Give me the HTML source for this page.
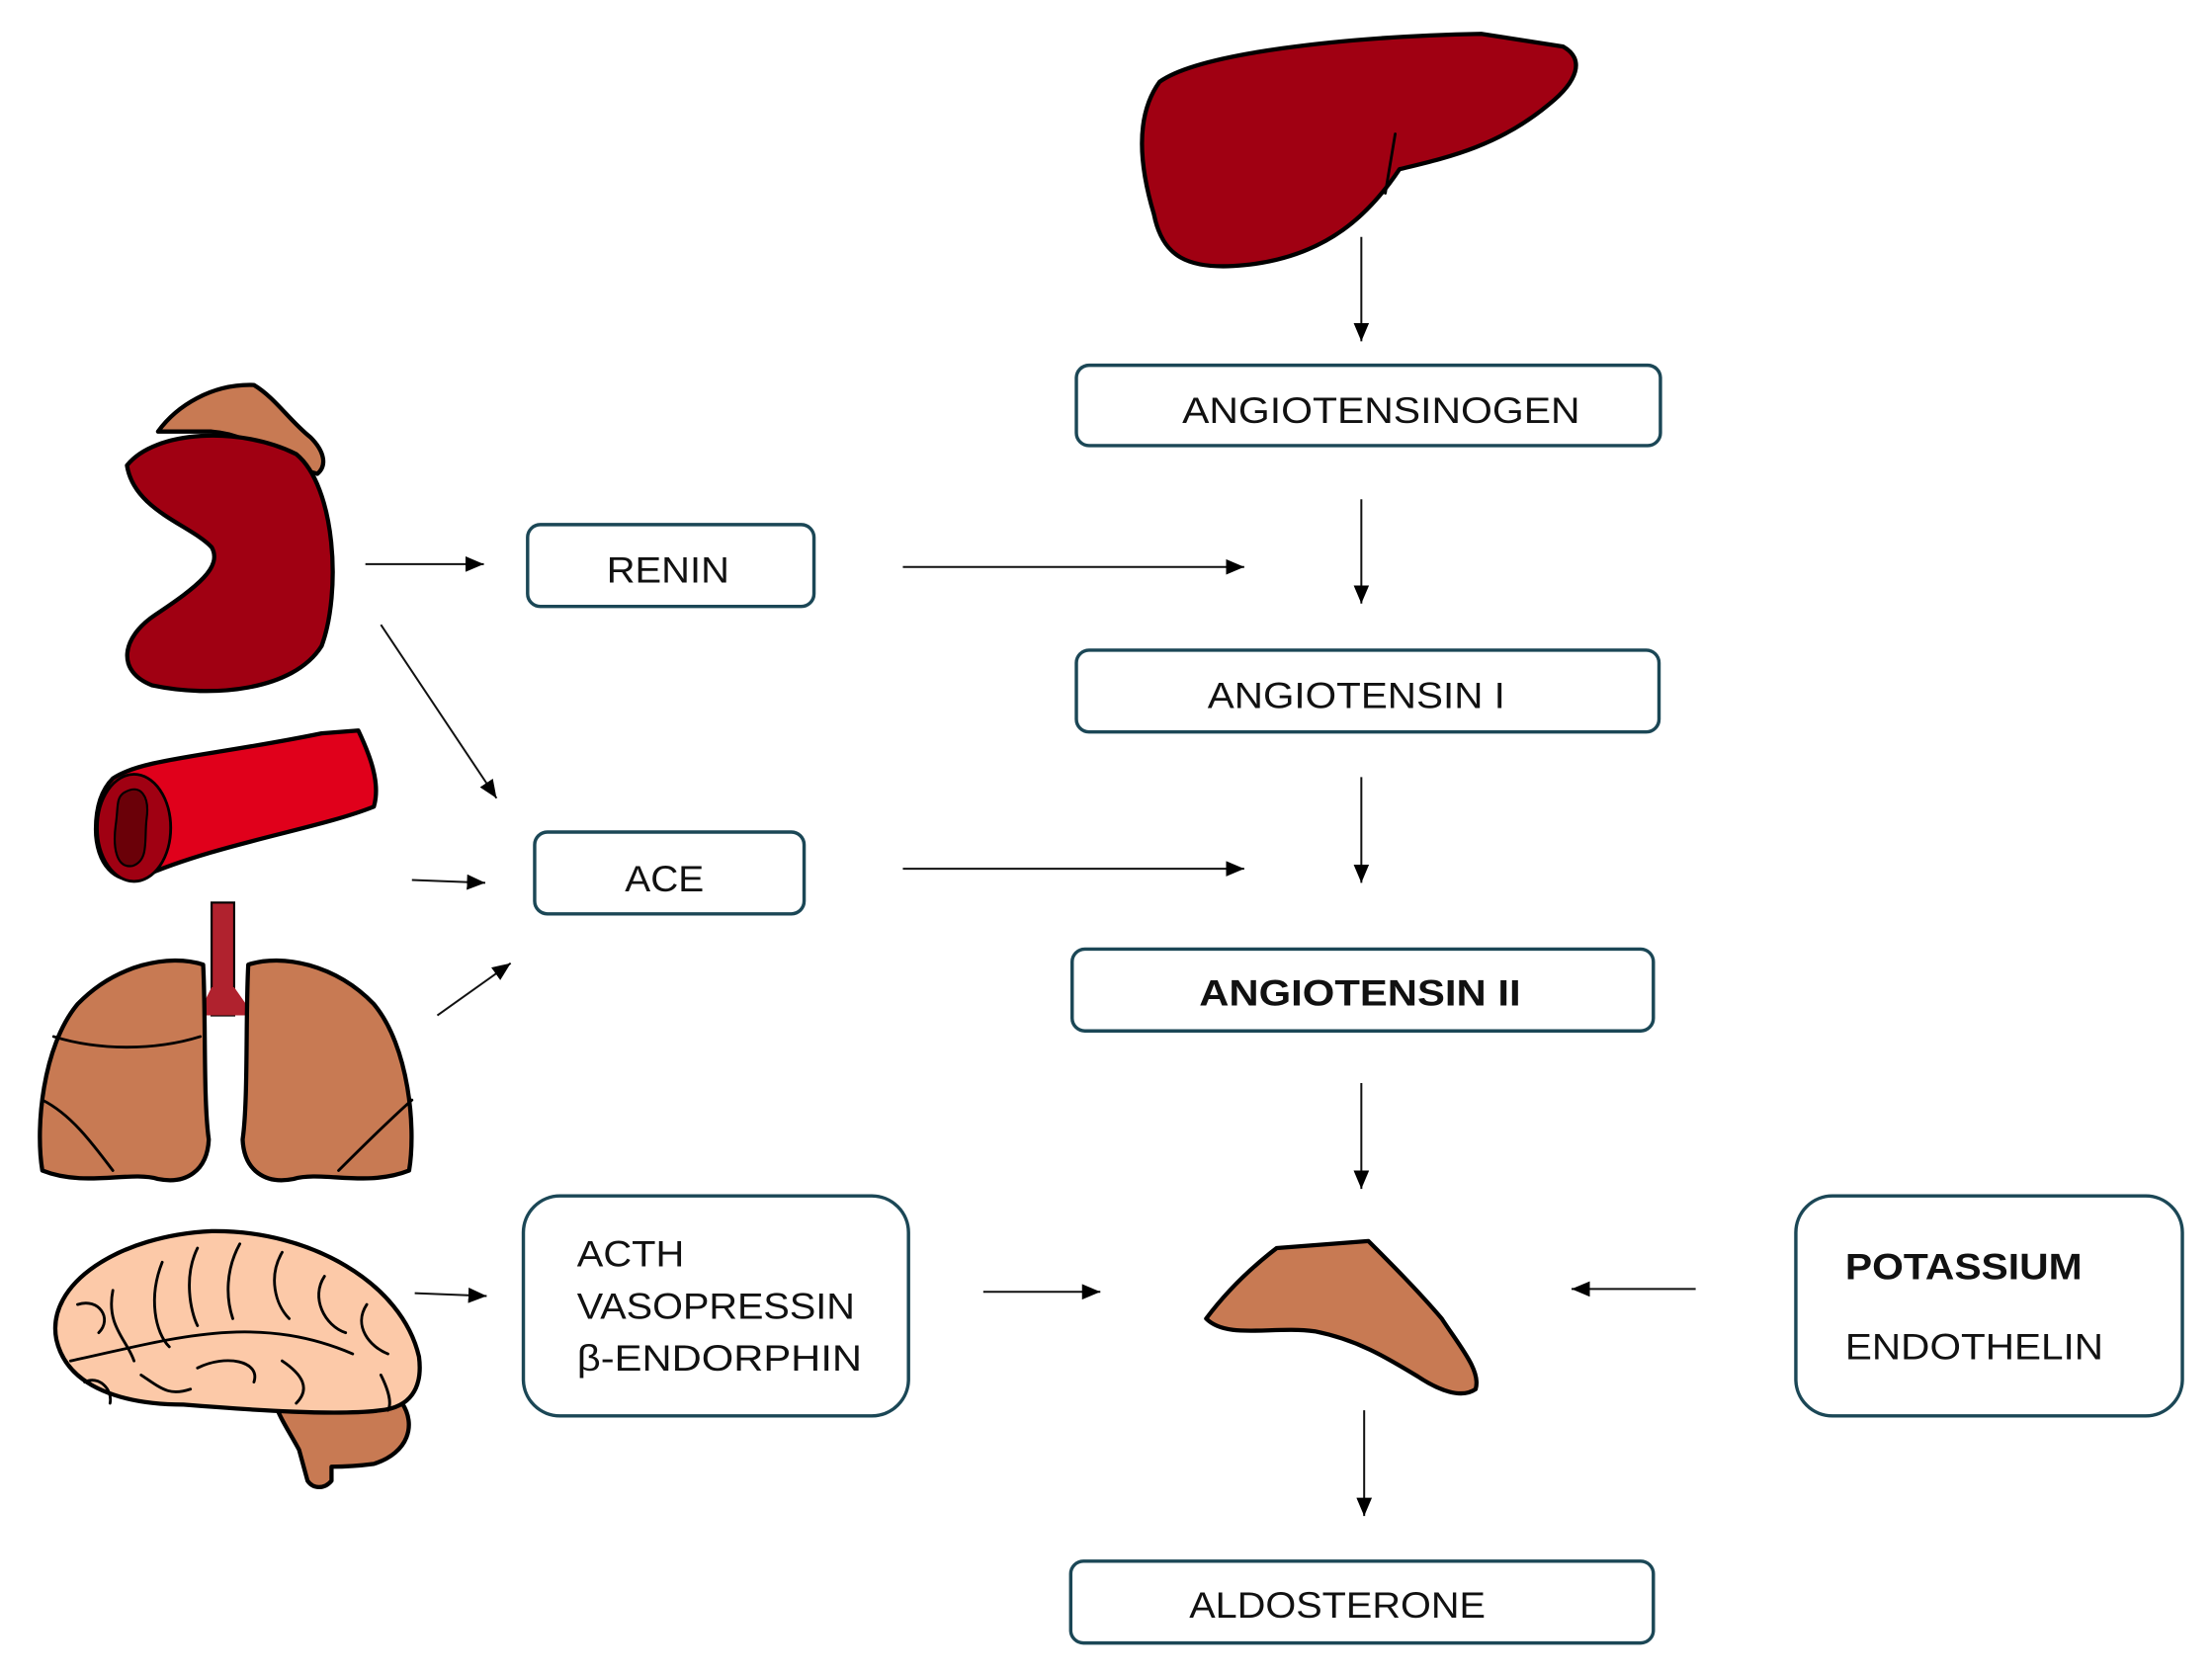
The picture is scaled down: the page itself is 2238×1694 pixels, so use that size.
<!DOCTYPE html>
<html><head><meta charset="utf-8"><style>
html,body{margin:0;padding:0;background:#fff;}
svg{display:block}
text{font-family:"Liberation Sans",Arial,sans-serif;font-size:26px;fill:#111;}
</style></head><body>
<svg width="2238" height="1694" viewBox="0 0 1568 1187" preserveAspectRatio="none" xmlns="http://www.w3.org/2000/svg">
<defs>
<marker id="ah" viewBox="0 0 10 10" refX="10" refY="5" markerWidth="13" markerHeight="11" orient="auto" markerUnits="userSpaceOnUse" preserveAspectRatio="none">
<path d="M0,0 L10,5 L0,10 z" fill="#000"/>
</marker>
</defs>
<style>
.ln{stroke:#111;stroke-width:1.4;fill:none;marker-end:url(#ah)}
.bx{fill:#fff;stroke:#1b4756;stroke-width:2.4}
.org{stroke:#000;stroke-width:3;stroke-linejoin:round}
.thin{stroke:#000;stroke-width:2;fill:none;stroke-linecap:round}
</style>

<!-- Liver -->
<path class="org" fill="#a00012" d="M822,58 C850,38 950,26 1050,24 L1108,33 C1124,42 1118,58 1098,74 C1062,104 1025,112 992,120 C972,150 942,182 882,188 C842,192 824,182 818,152 C806,112 806,80 822,58 Z"/>
<path class="thin" d="M989,95 L982,137"/>

<!-- Kidney with adrenal -->
<path class="org" fill="#c87a53" d="M112,306 C125,288 150,272 180,273 C195,282 205,298 220,310 C230,320 232,330 225,336 C200,330 180,308 150,306 Z"/>
<path class="org" fill="#a00012" d="M90,330 C110,305 170,302 210,322 C238,345 242,420 228,458 C208,490 150,495 108,486 C82,476 86,452 110,436 C140,416 158,402 150,388 C135,372 95,362 90,330 Z"/>

<!-- Vessel -->
<path class="org" fill="#e0001b" stroke-width="2.5" d="M80,552 C100,538 150,536 228,520 L254,518 C262,535 270,555 265,572 C225,588 155,598 100,622 C82,628 68,612 68,588 C68,572 72,560 80,552 Z"/>
<ellipse cx="95" cy="587" rx="26" ry="38" fill="#a00012" stroke="#000" stroke-width="2"/>
<path d="M88,562 C100,555 106,565 104,580 C102,595 106,610 94,614 C82,616 80,600 82,585 C84,572 82,566 88,562 Z" fill="#6a0008" stroke="#000" stroke-width="1.5"/>

<!-- Lungs -->
<rect x="150" y="640" width="16" height="80" fill="#b0222e" stroke="#000" stroke-width="1.5"/>
<path d="M150,700 L140,720 L180,720 L166,700 Z" fill="#b0222e"/>
<path class="org" fill="#c87a53" d="M144,684 C120,676 82,684 55,712 C30,742 25,800 30,830 C60,842 92,830 112,836 C132,840 147,830 148,808 C144,780 146,720 144,684 Z"/>
<path class="org" fill="#c87a53" d="M176,684 C200,676 238,684 265,712 C290,742 295,800 290,830 C260,842 228,830 208,836 C188,840 173,830 172,808 C176,780 174,720 176,684 Z"/>
<path class="thin" d="M38,735 C70,745 110,745 142,735"/>
<path class="thin" d="M30,780 C50,790 65,810 80,830"/>
<path class="thin" d="M292,780 C275,795 255,815 240,830"/>

<!-- Brain -->
<path class="org" fill="#c87a53" d="M195,995 C210,1000 240,1000 285,995 C295,1010 290,1030 265,1038 C250,1040 240,1040 235,1040 L235,1050 C230,1056 222,1056 218,1050 L212,1028 C205,1015 198,1005 195,995 Z"/>
<path class="org" fill="#fcc9a8" d="M40,950 C32,910 85,876 150,873 C220,872 285,910 297,962 C300,985 290,998 270,1000 C240,1004 180,1000 130,996 C90,996 48,985 40,950 Z"/>
<path class="thin" d="M50,965 C120,950 180,930 250,960"/>
<path class="thin" d="M80,915 C75,940 90,950 95,965"/>
<path class="thin" d="M115,895 C105,920 110,945 120,955"/>
<path class="thin" d="M140,885 C130,905 135,930 140,940"/>
<path class="thin" d="M170,882 C160,900 160,920 165,935"/>
<path class="thin" d="M200,888 C190,905 195,925 205,935"/>
<path class="thin" d="M230,905 C220,920 230,940 245,945"/>
<path class="thin" d="M260,925 C250,940 262,955 275,960"/>
<path class="thin" d="M55,925 C70,920 80,935 70,945"/>
<path class="thin" d="M140,970 C160,960 185,965 180,980"/>
<path class="thin" d="M60,980 C70,975 80,985 78,995"/>
<path class="thin" d="M270,975 C275,985 278,995 275,1000"/>
<path class="thin" d="M100,975 C115,985 120,990 135,985"/>
<path class="thin" d="M200,965 C215,975 220,985 210,995"/>

<!-- Adrenal -->
<path class="org" fill="#c87a53" d="M855,935 C870,915 888,898 905,885 L970,880 C985,895 1005,915 1022,935 C1035,955 1050,972 1046,985 C1036,992 1020,986 1005,976 C982,962 962,950 932,944 C902,940 870,950 855,935 Z"/>

<!-- Boxes -->
<rect class="bx" x="763" y="259" width="414" height="57" rx="9"/>
<text x="838" y="300" textLength="282" lengthAdjust="spacingAndGlyphs">ANGIOTENSINOGEN</text>
<rect class="bx" x="374" y="372" width="203" height="58" rx="9"/>
<text x="430" y="413" textLength="87" lengthAdjust="spacingAndGlyphs">RENIN</text>
<rect class="bx" x="763" y="461" width="413" height="58" rx="9"/>
<text x="856" y="502" textLength="211" lengthAdjust="spacingAndGlyphs">ANGIOTENSIN I</text>
<rect class="bx" x="379" y="590" width="191" height="58" rx="9"/>
<text x="443" y="632" textLength="56" lengthAdjust="spacingAndGlyphs">ACE</text>
<rect class="bx" x="760" y="673" width="412" height="58" rx="9"/>
<text x="850" y="713" font-weight="bold" textLength="228" lengthAdjust="spacingAndGlyphs">ANGIOTENSIN II</text>
<rect class="bx" x="371" y="848" width="273" height="156" rx="26"/>
<text x="409" y="898" textLength="76" lengthAdjust="spacingAndGlyphs">ACTH</text>
<text x="409" y="935" textLength="197" lengthAdjust="spacingAndGlyphs">VASOPRESSIN</text>
<text x="409" y="972" textLength="202" lengthAdjust="spacingAndGlyphs">β-ENDORPHIN</text>
<rect class="bx" x="1273" y="848" width="274" height="156" rx="26"/>
<text x="1308" y="907" font-weight="bold" textLength="168" lengthAdjust="spacingAndGlyphs">POTASSIUM</text>
<text x="1308" y="964" textLength="183" lengthAdjust="spacingAndGlyphs">ENDOTHELIN</text>
<rect class="bx" x="759" y="1107" width="413" height="58" rx="9"/>
<text x="843" y="1147" textLength="210" lengthAdjust="spacingAndGlyphs">ALDOSTERONE</text>

<!-- Arrows -->
<line class="ln" x1="965" y1="168" x2="965" y2="242"/>
<line class="ln" x1="965" y1="354" x2="965" y2="428"/>
<line class="ln" x1="965" y1="551" x2="965" y2="626"/>
<line class="ln" x1="965" y1="768" x2="965" y2="843"/>
<line class="ln" x1="967" y1="1000" x2="967" y2="1075"/>
<line class="ln" x1="640" y1="402" x2="882" y2="402"/>
<line class="ln" x1="640" y1="616" x2="882" y2="616"/>
<line class="ln" x1="259" y1="400" x2="343" y2="400"/>
<line class="ln" x1="270" y1="443" x2="352" y2="566"/>
<line class="ln" x1="292" y1="624" x2="344" y2="626"/>
<line class="ln" x1="310" y1="720" x2="362" y2="683"/>
<line class="ln" x1="294" y1="917" x2="345" y2="919"/>
<line class="ln" x1="697" y1="916" x2="780" y2="916"/>
<line class="ln" x1="1202" y1="914" x2="1114" y2="914"/>
</svg>
</body></html>
